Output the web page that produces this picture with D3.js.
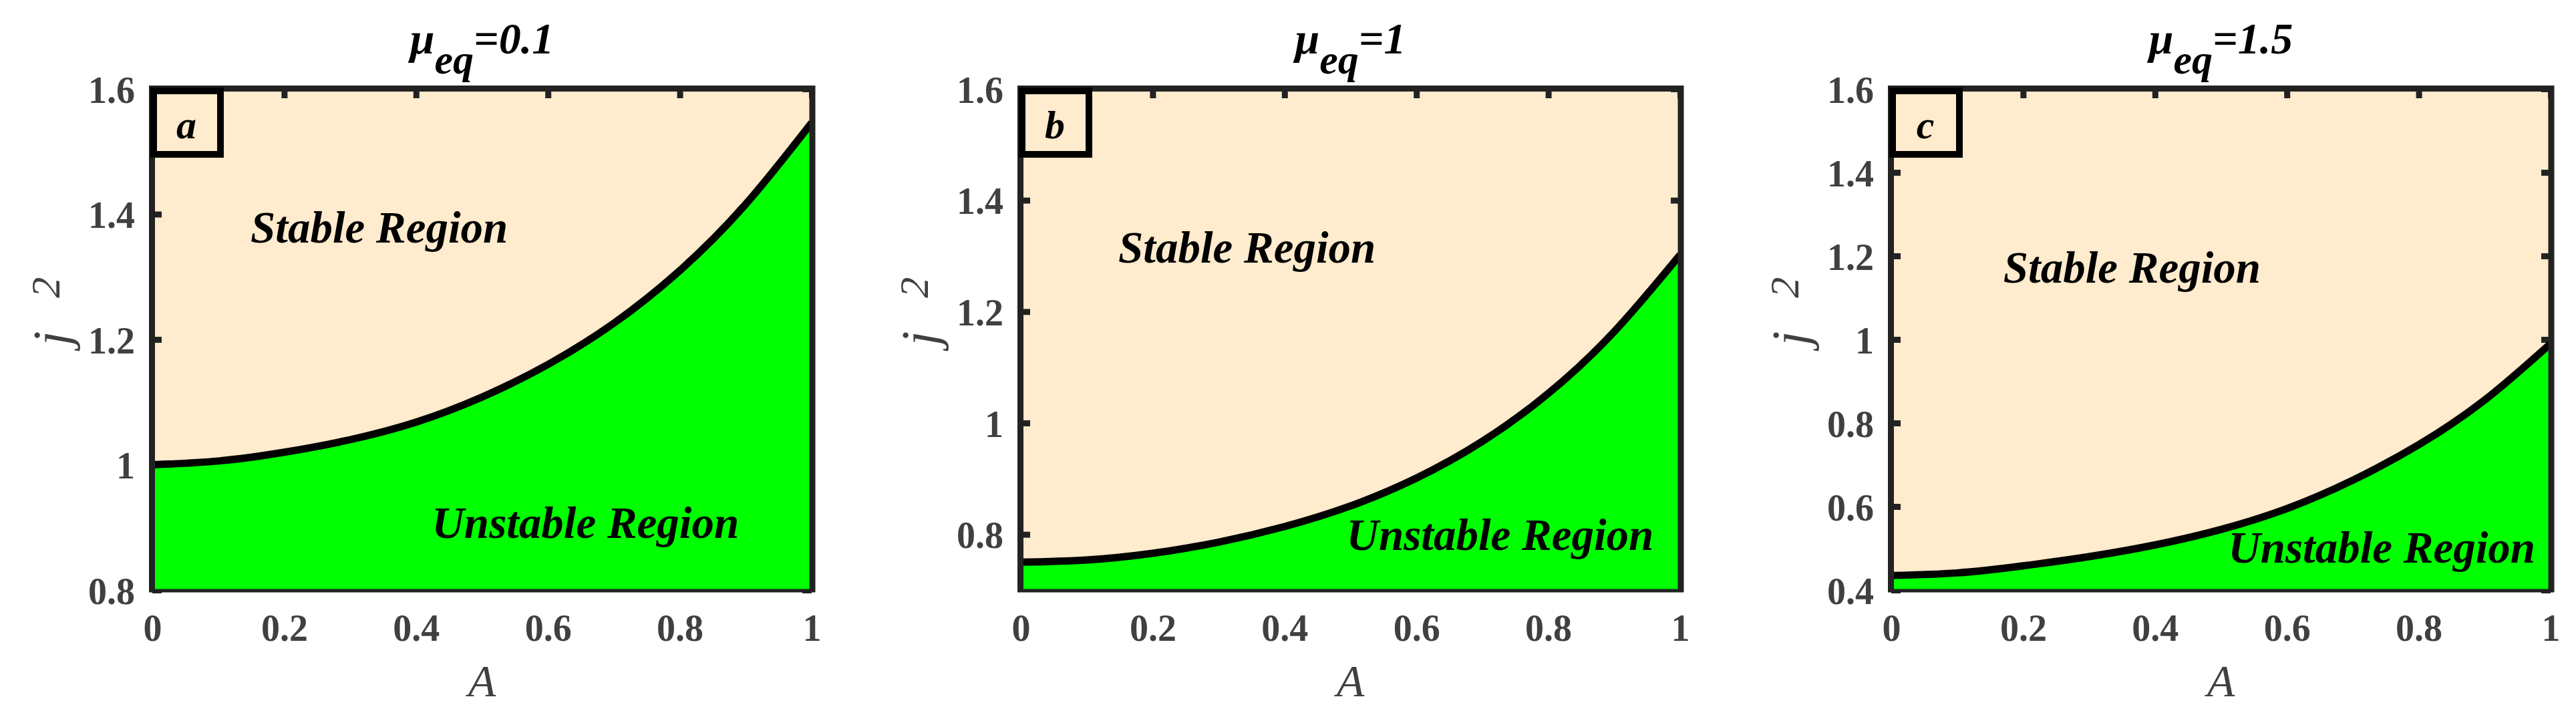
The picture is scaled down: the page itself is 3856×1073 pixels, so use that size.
<!DOCTYPE html>
<html>
<head>
<meta charset="utf-8">
<script src="https://cdn.jsdelivr.net/npm/d3@7/dist/d3.min.js"></script>
<style>
  html, body { margin: 0; padding: 0; background: #ffffff; }
  svg { display: block; }
</style>
</head>
<body>
<svg id="chart" width="3856" height="1073"></svg>
<script>
// ---------- data ----------
const muValues = ["0.1", "1", "1.5"];
const panelLetters = ["a", "b", "c"];
const xTickValues = [0, 0.2, 0.4, 0.6, 0.8, 1];
const xTickLabels = ["0", "0.2", "0.4", "0.6", "0.8", "1"];
const yDomainA = [0.8, 1.6];
const yDomainB = [0.7, 1.6];
const yDomainC = [0.4, 1.6];
const yTicksA = [0.8, 1, 1.2, 1.4, 1.6];
const yTicksB = [0.8, 1, 1.2, 1.4, 1.6];
const yTicksC = [0.4, 0.6, 0.8, 1, 1.2, 1.4, 1.6];
const yTickLabelsA = ["0.8", "1", "1.2", "1.4", "1.6"];
const yTickLabelsB = ["0.8", "1", "1.2", "1.4", "1.6"];
const yTickLabelsC = ["0.4", "0.6", "0.8", "1", "1.2", "1.4", "1.6"];
const A = [0, 0.1, 0.2, 0.3, 0.4, 0.5, 0.6, 0.7, 0.8, 0.9, 1.0];
const boundaryA = [1.000, 1.006, 1.020, 1.040, 1.068, 1.108, 1.160, 1.226, 1.310, 1.416, 1.546];
const boundaryB = [0.750, 0.754, 0.766, 0.786, 0.814, 0.851, 0.901, 0.967, 1.053, 1.164, 1.302];
const boundaryC = [0.435, 0.441, 0.458, 0.480, 0.508, 0.545, 0.595, 0.663, 0.748, 0.855, 0.990];
const regionNames = ["Stable Region", "Unstable Region"];

// ---------- layout ----------
const FONT = "'Liberation Serif', 'Times New Roman', Times, serif";
const panelLeft = [228, 1528, 2831];
const panelW = 987;
const plotTop = 133, plotBottom = 883;
const labelAnchors = [
  { stable: [0.149, 1.355], unstable: [0.424, 0.883] },
  { stable: [0.148, 1.288], unstable: [0.494, 0.772] },
  { stable: [0.170, 1.136], unstable: [0.511, 0.466] }
];

const panels = [
  { mu: muValues[0], letter: panelLetters[0], dom: yDomainA, ticks: yTicksA, tickLabels: yTickLabelsA, vals: boundaryA },
  { mu: muValues[1], letter: panelLetters[1], dom: yDomainB, ticks: yTicksB, tickLabels: yTickLabelsB, vals: boundaryB },
  { mu: muValues[2], letter: panelLetters[2], dom: yDomainC, ticks: yTicksC, tickLabels: yTickLabelsC, vals: boundaryC }
];

const svg = d3.select("#chart");
const axisColor = "#222222";
const labelColor = "#404040";

panels.forEach((p, i) => {
  const x0 = panelLeft[i], x1 = x0 + panelW;
  const x = d3.scaleLinear().domain([0, 1]).range([x0, x1]);
  const y = d3.scaleLinear().domain(p.dom).range([plotBottom, plotTop]);
  const g = svg.append("g");

  // background (stable region)
  g.append("rect")
    .attr("x", x0).attr("y", plotTop)
    .attr("width", x1 - x0).attr("height", plotBottom - plotTop)
    .attr("fill", "#FFEBCD");

  // inward tick marks on all four sides (drawn below the unstable patch)
  const tickLen = -14;
  const tickStyle = sel => {
    sel.select(".domain").remove();
    sel.selectAll(".tick line").attr("stroke", axisColor).attr("stroke-width", 9);
    sel.selectAll(".tick text").remove();
  };
  g.append("g").attr("transform", `translate(0,${plotBottom})`)
    .call(d3.axisBottom(x).tickValues(xTickValues).tickSize(tickLen)).call(tickStyle);
  g.append("g").attr("transform", `translate(0,${plotTop})`)
    .call(d3.axisTop(x).tickValues(xTickValues).tickSize(tickLen)).call(tickStyle);
  g.append("g").attr("transform", `translate(${x0},0)`)
    .call(d3.axisLeft(y).tickValues(p.ticks).tickSize(tickLen)).call(tickStyle);
  g.append("g").attr("transform", `translate(${x1},0)`)
    .call(d3.axisRight(y).tickValues(p.ticks).tickSize(tickLen)).call(tickStyle);

  const pts = A.map((a, k) => [a, p.vals[k]]);

  // unstable region
  const area = d3.area()
    .x(d => x(d[0])).y0(y(p.dom[0])).y1(d => y(d[1]))
    .curve(d3.curveNatural);
  g.append("path").datum(pts).attr("d", area).attr("fill", "#00FF00");

  // boundary curve
  const line = d3.line().x(d => x(d[0])).y(d => y(d[1])).curve(d3.curveNatural);
  g.append("path").datum(pts).attr("d", line)
    .attr("fill", "none").attr("stroke", "#000").attr("stroke-width", 11);

  // box lines
  g.append("line").attr("x1", x0 - 5).attr("x2", x1 + 5).attr("y1", plotTop - 0.5).attr("y2", plotTop - 0.5)
    .attr("stroke", axisColor).attr("stroke-width", 9);
  g.append("line").attr("x1", x0 - 0.5).attr("x2", x0 - 0.5).attr("y1", plotTop - 5).attr("y2", plotBottom + 3)
    .attr("stroke", axisColor).attr("stroke-width", 9);
  g.append("line").attr("x1", x1 + 1).attr("x2", x1 + 1).attr("y1", plotTop - 5).attr("y2", plotBottom + 3)
    .attr("stroke", axisColor).attr("stroke-width", 9);
  g.append("line").attr("x1", x0 - 5).attr("x2", x1 + 5).attr("y1", plotBottom + 1).attr("y2", plotBottom + 1)
    .attr("stroke", axisColor).attr("stroke-width", 5);

  // tick labels
  const gx = g.append("g").attr("transform", `translate(0,${plotBottom})`)
    .call(d3.axisBottom(x).tickValues(xTickValues).tickSize(0)
      .tickFormat((d, k) => xTickLabels[k]));
  gx.select(".domain").remove();
  gx.selectAll(".tick text")
    .attr("y", 76).attr("dy", null)
    .attr("fill", labelColor)
    .style("font-family", FONT).style("font-size", "56px").style("font-weight", "bold");

  const gy = g.append("g").attr("transform", `translate(${x0},0)`)
    .call(d3.axisLeft(y).tickValues(p.ticks).tickSize(0)
      .tickFormat((d, k) => p.tickLabels[k]));
  gy.select(".domain").remove();
  gy.selectAll(".tick text")
    .attr("x", -26).attr("y", 20).attr("dy", null)
    .attr("fill", labelColor)
    .style("font-family", FONT).style("font-size", "56px").style("font-weight", "bold");

  // panel letter box
  g.append("rect")
    .attr("x", x0 + 2).attr("y", plotTop + 3).attr("width", 100).attr("height", 95)
    .attr("fill", "none").attr("stroke", "#000").attr("stroke-width", 10);
  g.append("text")
    .attr("x", x0 + 51).attr("y", plotTop + 74)
    .attr("text-anchor", "middle")
    .style("font-family", FONT).style("font-size", "60px")
    .style("font-weight", "bold").style("font-style", "italic")
    .text(p.letter);

  // title
  const cx = (x0 + x1) / 2;
  const t = g.append("text")
    .attr("x", cx).attr("y", 80)
    .attr("text-anchor", "middle")
    .style("font-family", FONT).style("font-size", "66px")
    .style("font-weight", "bold").style("font-style", "italic")
    .attr("fill", "#000");
  t.append("tspan").text("\u03BC");
  t.append("tspan").attr("dy", 30).style("font-size", "62px").text("eq");
  t.append("tspan").attr("dy", -30).text("=" + p.mu);

  // region labels
  const la = labelAnchors[i];
  g.append("text")
    .attr("x", x(la.stable[0])).attr("y", y(la.stable[1]))
    .style("font-family", FONT).style("font-size", "67px")
    .style("font-weight", "bold").style("font-style", "italic")
    .text(regionNames[0]);
  g.append("text")
    .attr("x", x(la.unstable[0])).attr("y", y(la.unstable[1]))
    .style("font-family", FONT).style("font-size", "67px")
    .style("font-weight", "bold").style("font-style", "italic")
    .text(regionNames[1]);

  // axis labels
  g.append("text")
    .attr("x", cx).attr("y", 1042)
    .attr("text-anchor", "middle")
    .attr("fill", labelColor)
    .style("font-family", FONT).style("font-size", "68px")
    .style("font-style", "italic")
    .text("A");

  const yl = g.append("text")
    .attr("transform", `translate(${x0 - 125},${466}) rotate(-90)`)
    .attr("text-anchor", "middle")
    .attr("fill", labelColor)
    .style("font-family", FONT).style("font-size", "78px")
    .style("font-style", "italic");
  yl.append("tspan").text("j");
  yl.append("tspan").attr("dx", 50).attr("dy", -14).style("font-size", "62px").text("2");
});
</script>
</body>
</html>
